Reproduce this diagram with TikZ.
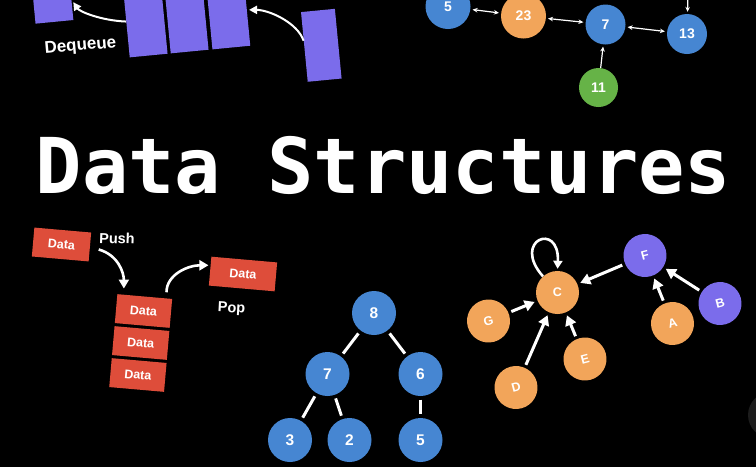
\documentclass[tikz,border=0pt]{standalone}
\usepackage{fontspec}
\setmainfont{Liberation Sans}
\newfontfamily\TitleFont{DejaVu Sans Mono}
\usetikzlibrary{arrows.meta}

\definecolor{QueuePurple}{HTML}{7B6CEB}
\definecolor{NodeBlue}{HTML}{4686D2}
\definecolor{NodeOrange}{HTML}{F2A55A}
\definecolor{NodeGreen}{HTML}{66B347}
\definecolor{StackRed}{HTML}{DE4D3A}
\definecolor{ShadowGray}{HTML}{1C1C1C}

\newcommand{\LabelFont}[1]{\bfseries\fontsize{#1}{#1}\selectfont}

\begin{document}
\begin{tikzpicture}[x=1pt,y=-1pt,
    qbox/.style={fill=QueuePurple,inner sep=0pt,minimum width=38pt,minimum height=72pt,rotate=5.5},
    sbox/.style={fill=StackRed,text=white,font=\LabelFont{12.5},inner sep=0pt,minimum height=29pt,rotate=-5},
    ball/.style={circle,inner sep=0pt,minimum size=44pt,text=white,font=\LabelFont{14}},
    heap ball/.style={ball,fill=NodeBlue,font=\LabelFont{15.5}},
    graph ball/.style={ball,minimum size=43pt,font=\LabelFont{12.5}},
    word/.style={text=white,inner sep=0pt,font=\LabelFont{14.5}},
    list link/.style={draw=white,line width=1.2pt,{Stealth[length=5pt,width=4.5pt]}-{Stealth[length=5pt,width=4.5pt]},shorten <=2pt,shorten >=2pt},
    list feed/.style={draw=white,line width=1.2pt,-{Stealth[length=5pt,width=4.5pt]},shorten >=2pt},
    queue arrow/.style={draw=white,line width=2pt,-{Triangle[length=8pt,width=8pt]}},
    stack arrow/.style={draw=white,line width=2.6pt,-{Triangle[length=9pt,width=10pt]}},
    tree edge/.style={draw=white,line width=3pt,shorten <=3.5pt,shorten >=3.5pt},
    graph arrow/.style={draw=white,line width=3pt,-{Triangle[length=10pt,width=11pt]},shorten <=3pt,shorten >=3pt}
]

% Page background
\useasboundingbox (0,0) rectangle (756,467);
\clip (0,0) rectangle (756,467);
\fill[black] (0,0) rectangle (756,467);
\fill[ShadowGray] (771,415) circle (23);

% =====================================================
% QUEUE
% =====================================================
\foreach \name/\cx/\cy in {q0/51/-14,q1/145.2/19.7,q2/186.2/15.7,q3/227.9/11.7} {
    \node[qbox] (\name) at (\cx,\cy) {};
}
\node[qbox,minimum width=34pt,minimum height=70pt] (q4) at (321.3,45.3) {};

\node[word,font=\LabelFont{17},rotate=5] (dequeue) at (80.5,46.5) {Dequeue};

\draw[queue arrow,shorten >=3pt] (q1.west) .. controls +(-25,-1) and +(8,12) .. (q0.-39);
\draw[queue arrow,shorten >=2pt] (q4.160) .. controls +(-6,-18) and +(22,0) .. (q3.east);

% =====================================================
% LINKED LIST
% =====================================================
\node[ball,fill=NodeBlue,minimum size=45pt] (l5) at (448,6.5) {5};
\node[ball,fill=NodeOrange,minimum size=45pt] (l23) at (523.5,16) {23};
\node[ball,fill=NodeBlue,minimum size=40pt] (l7) at (605.5,24.5) {7};
\node[ball,fill=NodeBlue,minimum size=40pt] (l13) at (687,34) {13};
\node[ball,fill=NodeGreen,minimum size=39pt] (l11) at (598.5,87.5) {11};
\coordinate (feed) at (688,-8);

\draw[list link] (l5) -- (l23);
\draw[list link] (l23) -- (l7);
\draw[list link] (l7) -- (l13);
\draw[list feed] (l11) -- (l7);
\draw[list feed] (feed) -- (l13);

% =====================================================
% TITLE
% =====================================================
\node[anchor=base,inner sep=0pt,text=white,font=\TitleFont\bfseries\fontsize{77}{77}\selectfont]
    (title) at (383.5,193) {Data Structures};

% =====================================================
% STACK
% =====================================================
\node[sbox,minimum width=57pt] (incoming) at (61.5,244.5) {Data};
\foreach \name/\cx/\cy in {s1/143.5/311,s2/140.7/343,s3/137.9/375} {
    \node[sbox,minimum width=55pt] (\name) at (\cx,\cy) {Data};
}
\node[sbox,minimum width=66pt] (popped) at (243,274) {Data};

\node[word,rotate=-2] (push) at (117,238.5) {Push};
\node[word,rotate=-3] (pop) at (231.5,309) {Pop};

\draw[stack arrow,shorten <=9pt,shorten >=6pt] (incoming.east) .. controls +(28,8) and +(0,-22) .. (s1.145);
\draw[stack arrow,shorten <=6pt,shorten >=2pt] (s1.34) .. controls +(0,-24) and +(-22,0) .. (popped.170);

% =====================================================
% HEAP
% =====================================================
\foreach \name/\val/\cx/\cy in {t8/8/374/313,t7/7/327.5/374,t6/6/420.5/374,t3/3/290/440,t2/2/349.5/440,t5/5/420.5/440} {
    \node[heap ball] (\name) at (\cx,\cy) {\val};
}
\foreach \a/\b in {t8/t7,t8/t6,t7/t3,t7/t2,t6/t5}
    \draw[tree edge] (\a) -- (\b);

% =====================================================
% DIRECTED GRAPH
% =====================================================
\node[graph ball,fill=NodeOrange] (gC) at (557.5,292.5) {C};
\node[graph ball,fill=QueuePurple,rotate=15] (gF) at (645,255.5) {F};
\node[graph ball,fill=QueuePurple,rotate=15] (gB) at (720,303.5) {B};
\node[graph ball,fill=NodeOrange,rotate=15] (gA) at (672.5,323.5) {A};
\node[graph ball,fill=NodeOrange,rotate=15] (gG) at (488.5,321) {G};
\node[graph ball,fill=NodeOrange,rotate=15] (gE) at (585,359) {E};
\node[graph ball,fill=NodeOrange,rotate=15] (gD) at (516,387.5) {D};

\foreach \a/\b in {gF/gC,gB/gF,gA/gF,gG/gC,gD/gC,gE/gC}
    \draw[graph arrow] (\a) -- (\b);

% self loop on C
\draw[draw=white,line width=2.6pt,-{Triangle[length=8pt,width=9pt]},shorten >=2pt]
    (gC.132) .. controls +(-32,-36) and +(2,-50) .. (gC.90);

\end{tikzpicture}
\end{document}
